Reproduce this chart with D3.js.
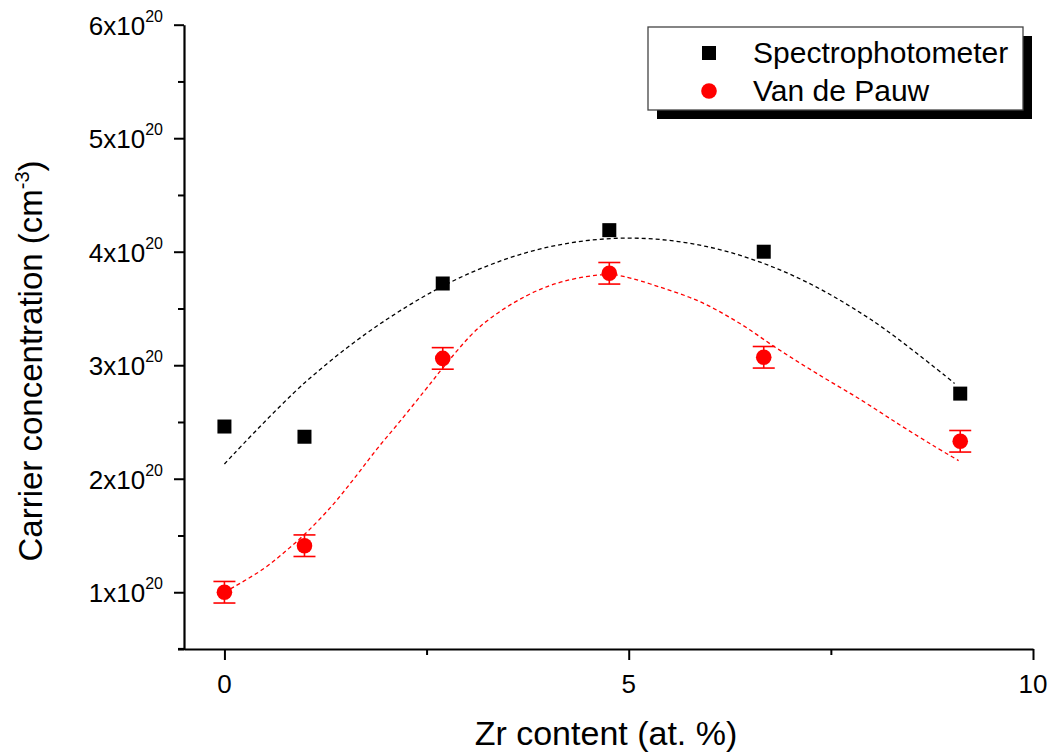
<!DOCTYPE html>
<html>
<head>
<meta charset="utf-8">
<script src="https://cdn.jsdelivr.net/npm/d3@7"></script>
<style>
  html, body { margin: 0; padding: 0; background: #fff; }
  svg text { font-family: "Liberation Sans", Arial, sans-serif; fill: #000; }
</style>
</head>
<body>
<svg id="chart" width="1053" height="756"></svg>
<script>
// Zr content (at. %) of the films
const zrContent = [0, 0.99, 2.70, 4.76, 6.67, 9.10];
// Carrier concentration, in units of 1e20 cm^-3
const spectroValues = [2.46, 2.37, 3.72, 4.19, 4.00, 2.75];
const vdpValues = [1.00, 1.41, 3.06, 3.81, 3.07, 2.33];
const vdpErrors = [0.095, 0.095, 0.095, 0.095, 0.095, 0.095];

// Fitted trend lines, sampled along each curve
const spectroFitX = [0, 1, 2, 3, 4, 5, 6, 7, 8, 9.03];
const spectroFitY = [2.13, 2.85, 3.40, 3.80, 4.04, 4.12, 4.04, 3.80, 3.40, 2.84];
const vdpFitX = [0, 0.47, 0.78, 1.03, 1.34, 1.61, 1.88, 2.17, 2.56, 2.70, 3.16, 3.73, 4.2, 4.75, 4.95, 5.38, 5.88, 6.37, 6.83, 7.32, 7.86, 8.35, 8.77, 9.08];
const vdpFitY = [1.00, 1.20, 1.376, 1.537, 1.77, 2.007, 2.256, 2.505, 2.85, 2.975, 3.34, 3.61, 3.74, 3.80, 3.78, 3.69, 3.56, 3.37, 3.15, 2.93, 2.70, 2.476, 2.29, 2.16];

const xTicks = [0, 5, 10];
const xMinorTicks = [2.5, 7.5];
const yTicks = [1, 2, 3, 4, 5, 6];
const yMinorTicks = [0.5, 1.5, 2.5, 3.5, 4.5, 5.5];
const seriesNames = ["Spectrophotometer", "Van de Pauw"];

const svg = d3.select("#chart");

const x = d3.scaleLinear().domain([-0.5, 10]).range([184, 1033]);
const y = d3.scaleLinear().domain([0.5, 6]).range([649, 24.7]);

// axes
const gx = svg.append("g").attr("transform", "translate(0,649)");
gx.call(d3.axisBottom(x).tickValues(xTicks).tickSize(11).tickSizeOuter(0).tickFormat(""));
gx.append("g").call(d3.axisBottom(x).tickValues(xMinorTicks).tickSize(6).tickSizeOuter(0).tickFormat(""))
  .select(".domain").remove();
gx.selectAll("path.domain").attr("stroke", "#000").attr("stroke-width", 2.2);
gx.selectAll("line").attr("stroke", "#000").attr("stroke-width", 2);
// extend x axis slightly past the y axis
gx.append("line").attr("x1", 178).attr("x2", 185).attr("y1", 0).attr("y2", 0)
  .attr("stroke", "#000").attr("stroke-width", 2.2);

const gy = svg.append("g").attr("transform", "translate(184,0)");
gy.call(d3.axisLeft(y).tickValues(yTicks).tickSize(10).tickSizeOuter(0).tickFormat(""));
gy.append("g").call(d3.axisLeft(y).tickValues(yMinorTicks).tickSize(6).tickSizeOuter(0).tickFormat(""))
  .select(".domain").remove();
gy.selectAll("path.domain").attr("stroke", "#000").attr("stroke-width", 2.2);
gy.selectAll("line").attr("stroke", "#000").attr("stroke-width", 2);

// x tick labels
svg.selectAll("text.xlab").data(xTicks).enter().append("text")
  .attr("class", "xlab")
  .attr("x", d => x(d)).attr("y", 693)
  .attr("text-anchor", "middle").attr("font-size", 26)
  .text(d => d);

// y tick labels with superscript exponent
const yl = svg.selectAll("text.ylab").data(yTicks).enter().append("text")
  .attr("class", "ylab")
  .attr("x", 163).attr("y", d => y(d) + 10)
  .attr("text-anchor", "end").attr("font-size", 26);
yl.append("tspan").text(d => d + "x10");
yl.append("tspan").attr("dy", -13).attr("font-size", 16).text("20");

// axis titles
svg.append("text")
  .attr("x", 606).attr("y", 745)
  .attr("text-anchor", "middle").attr("font-size", 34)
  .text("Zr content (at. %)");

const yt = svg.append("text")
  .attr("transform", "translate(42,361) rotate(-90)")
  .attr("text-anchor", "middle").attr("font-size", 33);
yt.append("tspan").text("Carrier concentration (cm");
yt.append("tspan").attr("dy", -13).attr("font-size", 20).text("-3");
yt.append("tspan").attr("dy", 13).text(")");

// fitted curves
const line = d3.line().x(d => x(d[0])).y(d => y(d[1])).curve(d3.curveCatmullRom.alpha(0.5));
svg.append("path")
  .datum(d3.zip(spectroFitX, spectroFitY))
  .attr("d", line).attr("fill", "none")
  .attr("stroke", "#000").attr("stroke-width", 1.3).attr("stroke-dasharray", "4,3");
svg.append("path")
  .datum(d3.zip(vdpFitX, vdpFitY))
  .attr("d", line).attr("fill", "none")
  .attr("stroke", "#ff0000").attr("stroke-width", 1.3).attr("stroke-dasharray", "4,3");

// error bars
const vdpData = zrContent.map((z, i) => ({ z, v: vdpValues[i], e: vdpErrors[i] }));
const eb = svg.append("g").attr("stroke", "#ff0000").attr("stroke-width", 1.6);
eb.selectAll("line.v").data(vdpData).enter().append("line")
  .attr("x1", d => x(d.z)).attr("x2", d => x(d.z))
  .attr("y1", d => y(d.v - d.e)).attr("y2", d => y(d.v + d.e));
eb.selectAll("line.t").data(vdpData).enter().append("line")
  .attr("x1", d => x(d.z) - 11).attr("x2", d => x(d.z) + 11)
  .attr("y1", d => y(d.v + d.e)).attr("y2", d => y(d.v + d.e));
eb.selectAll("line.b").data(vdpData).enter().append("line")
  .attr("x1", d => x(d.z) - 11).attr("x2", d => x(d.z) + 11)
  .attr("y1", d => y(d.v - d.e)).attr("y2", d => y(d.v - d.e));

// markers
svg.selectAll("rect.sp").data(zrContent.map((z, i) => [z, spectroValues[i]])).enter().append("rect")
  .attr("class", "sp")
  .attr("x", d => x(d[0]) - 7).attr("y", d => y(d[1]) - 7)
  .attr("width", 14).attr("height", 14).attr("fill", "#000");
svg.selectAll("circle.vdp").data(vdpData).enter().append("circle")
  .attr("class", "vdp")
  .attr("cx", d => x(d.z)).attr("cy", d => y(d.v)).attr("r", 7.8)
  .attr("fill", "#ff0000");

// legend
const lg = svg.append("g");
lg.append("rect").attr("x", 657).attr("y", 36).attr("width", 375).attr("height", 83).attr("fill", "#000");
lg.append("rect").attr("x", 648).attr("y", 27).attr("width", 375).attr("height", 83)
  .attr("fill", "#fff").attr("stroke", "#444").attr("stroke-width", 1.3);
lg.append("rect").attr("x", 702).attr("y", 46).attr("width", 14).attr("height", 14).attr("fill", "#000");
lg.append("circle").attr("cx", 709).attr("cy", 91).attr("r", 7.8).attr("fill", "#ff0000");
lg.selectAll("text").data(seriesNames).enter().append("text")
  .attr("x", 753).attr("y", (d, i) => 63 + i * 38)
  .attr("font-size", 30).text(d => d);
</script>
</body>
</html>
